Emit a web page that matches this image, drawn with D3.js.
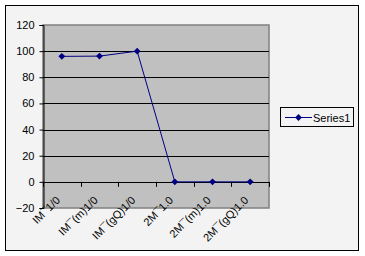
<!DOCTYPE html>
<html><head><meta charset="utf-8">
<script src="https://cdn.jsdelivr.net/npm/d3@7"></script>
<style>
html,body{margin:0;padding:0;background:#fff;}
svg{display:block;}
text{font-family:"Liberation Sans",Arial,sans-serif;font-size:11px;fill:#000;}
</style></head><body>
<script>
const categories = ["IM¯1/0", "IM¯(m)1/0", "IM¯(gQ)1/0", "2M¯1.0", "2M¯(m)1.0", "2M¯(gQ)1.0"];
const series1 = [96, 96.2, 100, 0, 0, 0];
const yTicks = [-20, 0, 20, 40, 60, 80, 100, 120];
const seriesName = "Series1";

const W = 365, H = 256;
const svg = d3.select("body").append("svg").attr("width", W).attr("height", H);

svg.append("rect").attr("x", 0).attr("y", 0).attr("width", W).attr("height", H).attr("fill", "#fff");
svg.append("rect").attr("x", 5.5).attr("y", 5.5).attr("width", 353).attr("height", 245)
  .attr("fill", "#f3f3f3").attr("stroke", "#000").attr("stroke-width", 1);

const L = 43, R = 269, T = 25, B = 208;
const x = d3.scaleBand().domain(categories).range([L, R]);
const y = d3.scaleLinear().domain([-20, 120]).range([B, T]);

svg.append("rect").attr("x", L).attr("y", T).attr("width", R - L).attr("height", B - T)
  .attr("fill", "#c0c0c0").attr("stroke", "#808080").attr("stroke-width", 1.5);

// gridlines
svg.append("g").selectAll("line").data(yTicks.filter(v => v > -20 && v < 120)).join("line")
  .attr("x1", L).attr("x2", R).attr("y1", d => Math.round(y(d)) + 0.5).attr("y2", d => Math.round(y(d)) + 0.5)
  .attr("stroke", "#000").attr("stroke-width", 1);

// y axis
const yAxis = svg.append("g").attr("transform", `translate(${L + 0.5},0)`)
  .call(d3.axisLeft(y).tickValues(yTicks).tickSize(4).tickPadding(5).tickFormat(d3.format("d")));
yAxis.select(".domain").attr("stroke", "#000");
yAxis.selectAll("text").style("font-size", "11px").style("font-family", "Liberation Sans, Arial, sans-serif");

// x axis at y=0
const boundaries = d3.range(categories.length + 1).map(i => L + i * x.step());
const xg = svg.append("g");
xg.append("line").attr("x1", L).attr("x2", R).attr("y1", Math.round(y(0)) + 0.5).attr("y2", Math.round(y(0)) + 0.5).attr("stroke", "#000");
xg.selectAll("line.tk").data(boundaries).join("line").attr("class", "tk")
  .attr("x1", d => Math.round(d) + 0.5).attr("x2", d => Math.round(d) + 0.5)
  .attr("y1", y(0)).attr("y2", y(0) + 5).attr("stroke", "#000");
xg.selectAll("text").data(categories).join("text")
  .attr("text-anchor", "end")
  .attr("transform", d => `translate(${x(d) + x.bandwidth() / 2 - 1},${y(0) + 19}) rotate(-45)`)
  .text(d => d);

// line
const marker = d3.symbol().type(d3.symbolDiamond2 || d3.symbolDiamond).size(30);
const line = d3.line().x((d, i) => x(categories[i]) + x.bandwidth() / 2).y(d => y(d));
svg.append("path").datum(series1).attr("d", line).attr("fill", "none").attr("stroke", "#000080").attr("stroke-width", 1);
svg.append("g").selectAll("path").data(series1).join("path")
  .attr("transform", (d, i) => `translate(${x(categories[i]) + x.bandwidth() / 2},${y(d)})`)
  .attr("d", marker).attr("fill", "#000080");

// legend
const lg = svg.append("g");
lg.append("rect").attr("x", 280.5).attr("y", 107.5).attr("width", 73).attr("height", 19)
  .attr("fill", "#f3f3f3").attr("stroke", "#000");
lg.append("line").attr("x1", 285).attr("x2", 312).attr("y1", 117.5).attr("y2", 117.5).attr("stroke", "#000080");
lg.append("path").attr("transform", "translate(298.5,117.5)").attr("d", marker).attr("fill", "#000080");
lg.append("text").attr("x", 313).attr("y", 121.5).text(seriesName);
</script>
</body></html>
